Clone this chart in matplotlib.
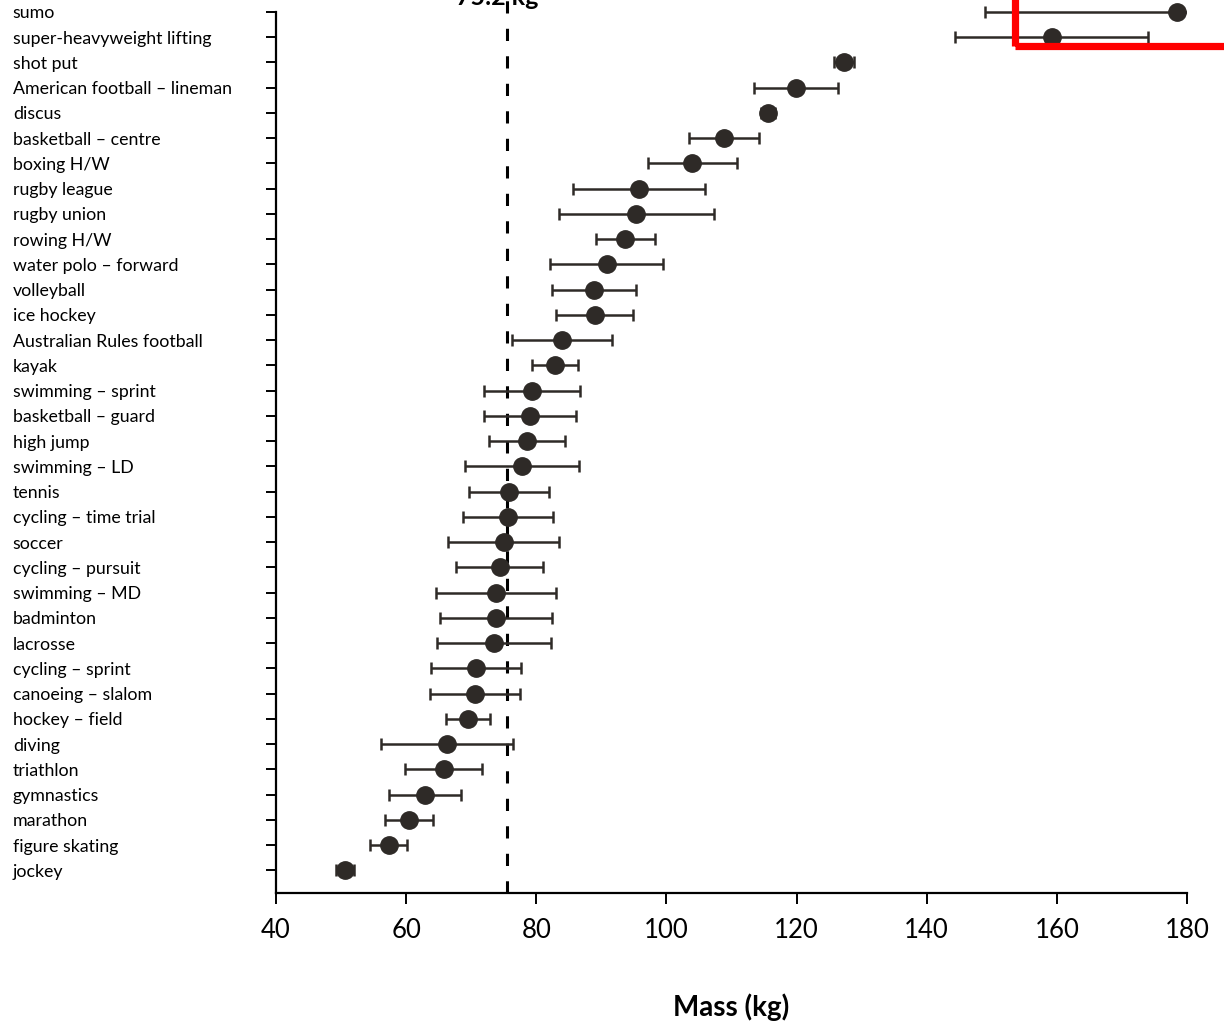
"""
Body mass of elite athletes by sport (mean +/- SD)
"""

import numpy as np
import matplotlib.pyplot as plt
from matplotlib.patches import Rectangle


# Data, listed from bottom row to top row
sports = [
    'jockey', 'figure skating', 'marathon', 'gymnastics', 'triathlon',
    'diving', 'hockey \u2013 field', 'canoeing \u2013 slalom', 'cycling \u2013 sprint',
    'lacrosse', 'badminton', 'swimming \u2013 MD', 'cycling \u2013 pursuit', 'soccer',
    'cycling \u2013 time trial', 'tennis', 'swimming \u2013 LD', 'high jump',
    'basketball \u2013 guard', 'swimming \u2013 sprint', 'kayak',
    'Australian Rules football', 'ice hockey', 'volleyball',
    'water polo \u2013 forward', 'rowing H/W', 'rugby union', 'rugby league',
    'boxing H/W', 'basketball \u2013 centre', 'discus',
    'American football \u2013 lineman', 'shot put', 'super-heavyweight lifting', 'sumo',
]
mass_mean = [
    50.6, 57.3, 60.4, 62.9, 65.8,
    66.3, 69.5, 70.6, 70.7,
    73.5, 73.8, 73.8, 74.4, 75.0,
    75.7, 75.8, 77.8, 78.6,
    79.0, 79.3, 82.9,
    83.9, 89.0, 88.9,
    90.8, 93.7, 95.4, 95.8,
    104.0, 108.8, 115.6,
    119.9, 127.3, 159.2, 178.5,
]
mass_sd = [
    1.4, 2.9, 3.7, 5.5, 5.9,
    10.1, 3.4, 6.9, 6.9,
    8.7, 8.6, 9.2, 6.7, 8.5,
    6.9, 6.1, 8.8, 5.8,
    7.1, 7.4, 3.5,
    7.7, 5.9, 6.45,
    8.7, 4.5, 11.9, 10.1,
    6.8, 5.4, 1.1,
    6.5, 1.5, 14.8, 29.5,
]
overall_mean = 75.5
mean_label = '75.2 kg'
x_ticks = [40, 60, 80, 100, 120, 140, 160, 180]

DOT = '#2e2a27'
W, H = 1224, 1023

plt.rcParams['font.family'] = ['Lato', 'DejaVu Sans']

fig = plt.figure(figsize=(W / 100, H / 100), dpi=100)
ax = fig.add_axes([276 / W, 1 - 893 / H, (1187 - 276) / W, 893 / H])

rows = np.arange(len(sports))
ax.errorbar(mass_mean, rows, xerr=mass_sd, fmt='none', ecolor=DOT,
            elinewidth=1.8, capsize=4.5, capthick=1.8)
ax.plot(mass_mean, rows, 'o', color=DOT, markersize=12.5, clip_on=False, zorder=3)

ax.axvline(overall_mean, color='black', lw=2.2, linestyle=(0, (4, 5)), zorder=1)

ax.set_xlim(40, 180)
ax.set_ylim(-0.9, len(sports) - 1 + 12 / 25.3)

for side in ['top', 'right']:
    ax.spines[side].set_visible(False)
ax.spines['left'].set_bounds(-0.9, len(sports) - 1)
ax.spines['left'].set_linewidth(1.6)
ax.spines['bottom'].set_linewidth(1.6)

ax.set_xticks(x_ticks)
ax.set_xticklabels([str(t) for t in x_ticks], fontsize=18.5)
ax.tick_params(axis='x', direction='out', length=8, width=1.4, pad=10)

ax.set_yticks(rows)
ax.set_yticklabels(sports, fontsize=12.8, ha='left')
ax.tick_params(axis='y', direction='out', length=7.5, width=1.4, pad=182)

ax.set_xlabel('Mass (kg)', fontsize=20, fontweight='bold', labelpad=36)

# label of the mean line, mostly cut off at the top edge
fig.text(497 / W, 1 - 5 / H, mean_label, fontsize=18, fontweight='bold',
         ha='center', va='baseline')

# red highlight box drawn over the scan
fig.add_artist(Rectangle((1014.5 / W, 1 - 45.5 / H), 400 / W, 200 / H,
                         transform=fig.transFigure, fill=False,
                         edgecolor='#ff0000', linewidth=5.2, clip_on=False))

fig.savefig('out.png', dpi=100)
